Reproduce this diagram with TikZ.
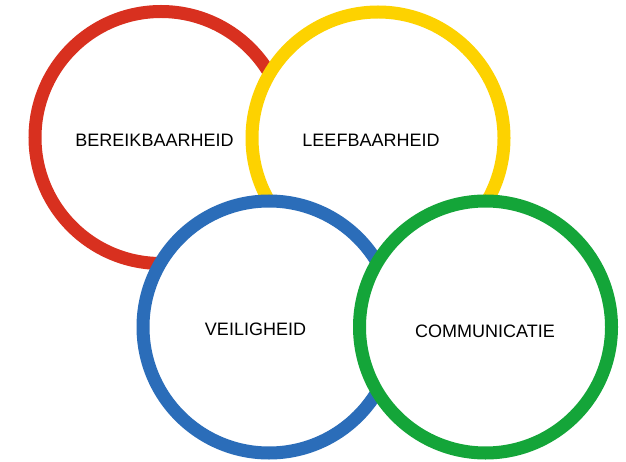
\documentclass[tikz,border=0pt]{standalone}
\usepackage{fontspec}
\setmainfont{Liberation Sans}
\definecolor{cred}{HTML}{D8301F}
\definecolor{cyellow}{HTML}{FDD200}
\definecolor{cblue}{HTML}{2B6DB9}
\definecolor{cgreen}{HTML}{14A539}
\begin{document}
\begin{tikzpicture}[x=1pt,y=-1pt,
  ring/.style={circle,draw=#1,line width=13pt,fill=white,minimum size=252pt,inner sep=0pt},
  lbl/.style={font=\fontsize{18}{21}\selectfont,text=black,inner sep=0pt}]
\useasboundingbox (0,0) rectangle (626,462);
\node[ring=cred] (r) at (161,137.5) {};
\node[ring=cyellow] (y) at (378,138) {};
\node[ring=cblue] (b) at (269,327) {};
\node[ring=cgreen] (g) at (485.5,327) {};
\node[lbl] (tr) at (154.5,140) {BEREIKBAARHEID};
\node[lbl] (ty) at (371,140) {LEEFBAARHEID};
\node[lbl] (tb) at (255.5,329) {VEILIGHEID};
\node[lbl] (tg) at (485,331) {COMMUNICATIE};
\end{tikzpicture}
\end{document}
